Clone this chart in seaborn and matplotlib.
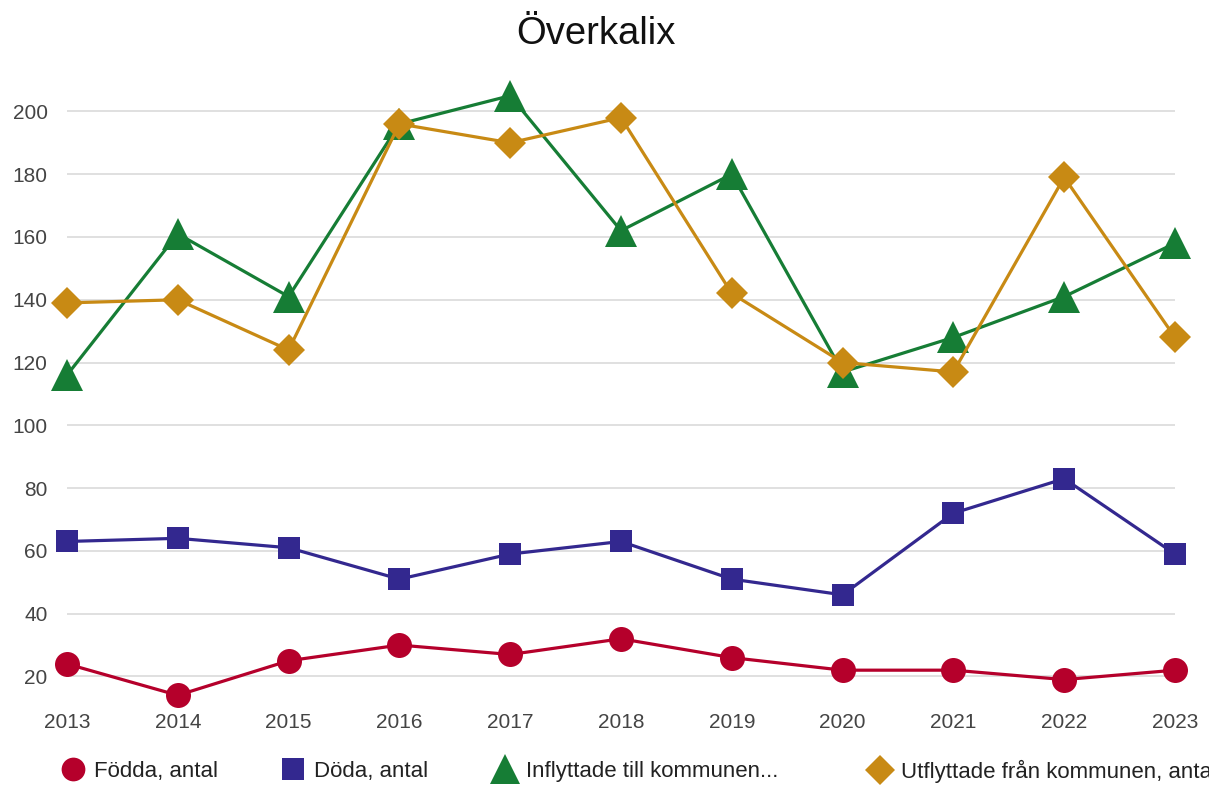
import numpy as np
import pandas as pd
import matplotlib
matplotlib.use("Agg")
import matplotlib.pyplot as plt
import seaborn as sns
from matplotlib.lines import Line2D

# Data
years = [2013, 2014, 2015, 2016, 2017, 2018, 2019, 2020, 2021, 2022, 2023]
fodda = [24, 14, 25, 30, 27, 32, 26, 22, 22, 19, 22]
doda = [63, 64, 61, 51, 59, 63, 51, 46, 72, 83, 59]
inflyttade = [116, 161, 141, 196, 205, 162, 180, 117, 128, 141, 158]
utflyttade = [139, 140, 124, 196, 190, 198, 142, 120, 117, 179, 128]

series_labels = ["Födda, antal", "Döda, antal", "Inflyttade till kommunen...",
                 "Utflyttade från kommunen, antal"]
title = "Överkalix"
yticks = [20, 40, 60, 80, 100, 120, 140, 160, 180, 200]

# Styling
colors = ["#b5002b", "#33288f", "#167d35", "#c88a14"]
markers = ["o", "s", "^", "D"]
msizes = [18, 16.5, 23, 16]

sns.set_style("white")
plt.rcParams["font.family"] = ["Liberation Sans", "DejaVu Sans"]

fig = plt.figure(figsize=(12.09, 7.87), dpi=100)
ax = fig.add_axes([67 / 1209, 1 - 700 / 787, (1175 - 67) / 1209, (700 - 80) / 787])

all_series = [fodda, doda, inflyttade, utflyttade]
for i, vals in enumerate(all_series):
    df = pd.DataFrame({"year": years, "value": vals})
    sns.lineplot(data=df, x="year", y="value", ax=ax, color=colors[i],
                 marker=markers[i], markersize=msizes[i], markeredgewidth=0,
                 linewidth=2.3, clip_on=False, zorder=3 + i)

ax.set_xlim(2013, 2023)
ax.set_ylim(12.5, 210)
ax.set_xticks(years)
ax.set_yticks(yticks)
ax.set_xlabel("")
ax.set_ylabel("")
ax.grid(axis="y", color="#dddddd", linewidth=1.3, zorder=0)
ax.grid(axis="x", visible=False)
for s in ax.spines.values():
    s.set_visible(False)
ax.tick_params(axis="y", length=0, pad=14, labelsize=15, labelcolor="#444444")
ax.tick_params(axis="x", length=0, pad=9, labelsize=15, labelcolor="#444444")

fig.text(596 / 1209, 1 - 34 / 787, title, ha="center", va="center",
         fontsize=27.5, color="#111111")

# Legend: one entry per slot, like the original layout
legend_x = [62, 282, 494, 869]
for i, lab in enumerate(series_labels):
    h = Line2D([], [], color=colors[i], marker=markers[i], linestyle="none",
               markersize=msizes[i] * 0.95, markeredgewidth=0)
    fig.legend(handles=[h], labels=[lab], loc="center left",
               bbox_to_anchor=(legend_x[i] / 1209, 1 - 771 / 787),
               frameon=False, fontsize=16, handlelength=1.0, handletextpad=0.45,
               borderaxespad=0, borderpad=0, labelcolor="#222222")

fig.savefig("out.png", dpi=100)
